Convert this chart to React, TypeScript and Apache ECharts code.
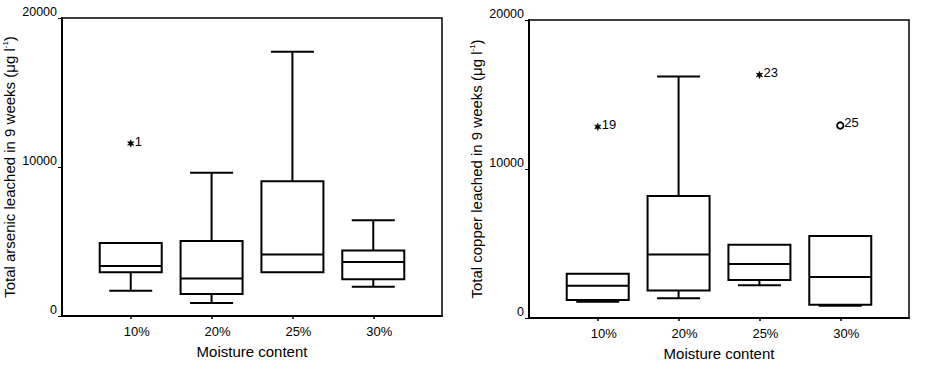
import React, { useEffect, useRef } from "react";
import * as echarts from "echarts";

const categories = ["10%", "20%", "25%", "30%"];
const catPositions = [1, 2, 3, 4];

// [position, lowerWhisker, q1, median, q3, upperWhisker]
const arsenicBoxes = [
  [1, 1700, 2930, 3360, 4900, 4900],
  [2, 870, 1480, 2510, 5040, 9610],
  [3, 2930, 2930, 4120, 9050, 17740],
  [4, 1970, 2460, 3630, 4390, 6430],
];
// [position, value, caseLabel, markerKind]
const arsenicOutliers = [[1, 11580, "1", "star"]];

const copperBoxes = [
  [1, 1090, 1210, 2170, 2970, 2970],
  [2, 1320, 1850, 4270, 8180, 16200],
  [3, 2190, 2550, 3620, 4920, 4920],
  [4, 830, 890, 2750, 5500, 5500],
];
const copperOutliers = [
  [1, 12830, "19", "star"],
  [3, 16310, "23", "star"],
  [4, 12920, "25", "circle"],
];

const yTicks = [0, 10000, 20000];

const FONT = "'Liberation Sans', Arial, Helvetica, sans-serif";
const BOX_HALF = 31;
const CAP_HALF = 21.5;
const LW = 2;

function boxRender(params: any, api: any) {
  const x = api.value(0);
  const lo = api.coord([x, api.value(1)]);
  const q1 = api.coord([x, api.value(2)]);
  const med = api.coord([x, api.value(3)]);
  const q3 = api.coord([x, api.value(4)]);
  const hi = api.coord([x, api.value(5)]);
  const cx = lo[0];
  const ls = { stroke: "#000", lineWidth: LW, fill: null };
  const children: any[] = [];
  if (hi[1] < q3[1] - 0.5) {
    children.push({ type: "line", shape: { x1: cx, y1: hi[1], x2: cx, y2: q3[1] }, style: ls });
    children.push({ type: "line", shape: { x1: cx - CAP_HALF, y1: hi[1], x2: cx + CAP_HALF, y2: hi[1] }, style: ls });
  }
  if (lo[1] > q1[1] + 0.5) {
    children.push({ type: "line", shape: { x1: cx, y1: q1[1], x2: cx, y2: lo[1] }, style: ls });
    children.push({ type: "line", shape: { x1: cx - CAP_HALF, y1: lo[1], x2: cx + CAP_HALF, y2: lo[1] }, style: ls });
  }
  children.push({
    type: "rect",
    shape: { x: cx - BOX_HALF, y: q3[1], width: BOX_HALF * 2, height: q1[1] - q3[1] },
    style: { stroke: "#000", lineWidth: LW, fill: "#fff" },
  });
  children.push({ type: "line", shape: { x1: cx - BOX_HALF, y1: med[1], x2: cx + BOX_HALF, y2: med[1] }, style: ls });
  return { type: "group", children };
}

function starPoints(cx: number, cy: number, ro: number, ri: number, n: number) {
  const pts: number[][] = [];
  for (let i = 0; i < n * 2; i++) {
    const r = i % 2 === 0 ? ro : ri;
    const a = (Math.PI * i) / n - Math.PI / 2;
    pts.push([cx + r * Math.cos(a), cy + r * Math.sin(a)]);
  }
  return pts;
}

function outlierRender(params: any, api: any, data: any[]) {
  const item = data[params.dataIndex];
  const p = api.coord([api.value(0), api.value(1)]);
  const children: any[] = [];
  if (item[3] === "circle") {
    children.push({
      type: "circle",
      shape: { cx: p[0], cy: p[1], r: 3.2 },
      style: { stroke: "#000", lineWidth: 1.8, fill: "#fff" },
    });
  } else {
    children.push({
      type: "polygon",
      shape: { points: starPoints(p[0], p[1], 3.6, 1.6, 6) },
      style: { fill: "#000", stroke: "#000", lineWidth: 0.6 },
    });
  }
  children.push({
    type: "text",
    x: p[0] + 4,
    y: p[1] - (item[3] === "circle" ? 3 : 2),
    style: {
      text: item[2],
      fill: "#000",
      font: `13px ${FONT}`,
      align: "left",
      verticalAlign: "middle",
    },
  });
  return { type: "group", children };
}

function yName(metal: string) {
  return `{a|Total ${metal} leached in 9 weeks (μg l}{s|-1}{a|)}`;
}

function makeAxes(idx: number, metal: string) {
  const xAxis = {
    type: "value",
    gridIndex: idx,
    min: 0.15,
    max: 4.85,
    name: "Moisture content",
    nameLocation: "middle",
    nameGap: 28,
    nameTextStyle: { fontFamily: FONT, fontSize: 15, color: "#000" },
    axisLine: { show: true, lineStyle: { color: "#000", width: 2 } },
    axisTick: { show: true, length: 3, customValues: catPositions, lineStyle: { color: "#000", width: 1.5 } },
    axisLabel: {
      customValues: catPositions,
      formatter: (v: number) => categories[Math.round(v) - 1] ?? "",
      fontFamily: FONT,
      fontSize: 13,
      color: "#000",
      margin: 9,
      padding: [0, 0, 0, 12],
    },
    splitLine: { show: false },
  };
  const yAxis = {
    type: "value",
    gridIndex: idx,
    min: yTicks[0],
    max: yTicks[yTicks.length - 1],
    interval: yTicks[1] - yTicks[0],
    name: yName(metal),
    nameLocation: "middle",
    nameGap: 44,
    nameTextStyle: {
      color: "#000",
      fontFamily: FONT,
      fontSize: 15,
      rich: {
        a: { fontFamily: FONT, fontSize: 15, color: "#000", lineHeight: 17 },
        s: { fontFamily: FONT, fontSize: 8, color: "#000", verticalAlign: "top", lineHeight: 17 },
      },
    },
    axisLine: { show: true, lineStyle: { color: "#000", width: 2 } },
    axisTick: { show: true, length: 4, lineStyle: { color: "#000", width: 1 } },
    axisLabel: {
      formatter: (v: number) => String(v),
      fontFamily: FONT,
      fontSize: 12.5,
      color: "#000",
      margin: 5,
      verticalAlign: "bottom",
      lineHeight: 12,
    },
    splitLine: { show: false },
  };
  return { xAxis, yAxis };
}

export default function App() {
  const ref = useRef<HTMLDivElement>(null);
  useEffect(() => {
    if (!ref.current) return;
    const chart = echarts.init(ref.current, undefined, { renderer: "svg" });
    const a = makeAxes(0, "arsenic");
    const c = makeAxes(1, "copper");
    chart.setOption({
      animation: false,
      backgroundColor: "#fff",
      grid: [
        { left: 62, top: 18, width: 380, height: 298, show: true, borderColor: "#000", borderWidth: 1.5, backgroundColor: "transparent" },
        { left: 529, top: 20, width: 380, height: 298, show: true, borderColor: "#000", borderWidth: 1.5, backgroundColor: "transparent" },
      ],
      xAxis: [a.xAxis, c.xAxis],
      yAxis: [a.yAxis, c.yAxis],
      series: [
        { type: "custom", xAxisIndex: 0, yAxisIndex: 0, renderItem: boxRender, data: arsenicBoxes, clip: false },
        {
          type: "custom",
          xAxisIndex: 0,
          yAxisIndex: 0,
          renderItem: (p: any, api: any) => outlierRender(p, api, arsenicOutliers),
          data: arsenicOutliers.map((o) => [o[0], o[1]]),
        },
        { type: "custom", xAxisIndex: 1, yAxisIndex: 1, renderItem: boxRender, data: copperBoxes, clip: false },
        {
          type: "custom",
          xAxisIndex: 1,
          yAxisIndex: 1,
          renderItem: (p: any, api: any) => outlierRender(p, api, copperOutliers),
          data: copperOutliers.map((o) => [o[0], o[1]]),
        },
      ],
    });
    return () => chart.dispose();
  }, []);
  return (
    <div
      ref={ref}
      style={{ position: "fixed", left: 0, top: 0, width: 947, height: 369, background: "#fff" }}
    />
  );
}
